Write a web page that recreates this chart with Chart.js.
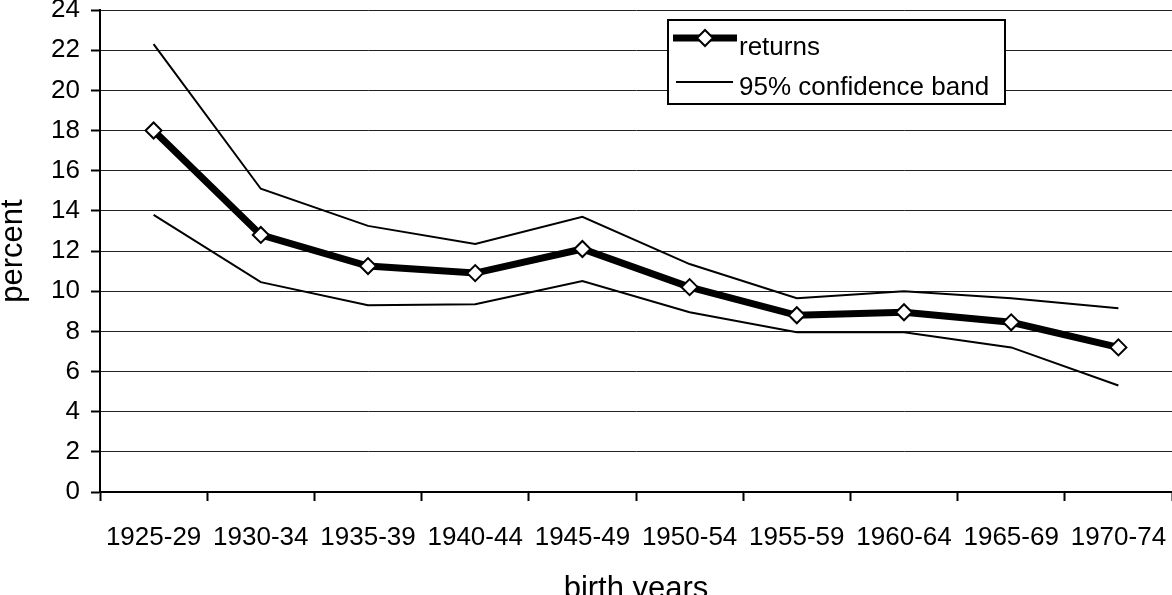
<!DOCTYPE html>
<html>
<head>
<meta charset="utf-8">
<title>Returns by birth years</title>
<script src="https://cdn.jsdelivr.net/npm/chart.js@4.4.0/dist/chart.umd.min.js"></script>
<style>
  html, body { margin: 0; padding: 0; background: #fff; }
  canvas { display: block; }
</style>
</head>
<body>
<canvas id="chart" width="1172" height="595"></canvas>
<script>
// =============================
// Data
// =============================
const birthYears = ["1925-29", "1930-34", "1935-39", "1940-44", "1945-49", "1950-54", "1955-59", "1960-64", "1965-69", "1970-74"];
const returns    = [18.0, 12.8, 11.25, 10.9, 12.1, 10.2, 8.8, 8.95, 8.45, 7.2];
const upperBand  = [22.3, 15.1, 13.25, 12.35, 13.7, 11.35, 9.65, 10.0, 9.65, 9.15];
const lowerBand  = [13.8, 10.45, 9.3, 9.35, 10.5, 8.95, 7.95, 7.95, 7.2, 5.3];
const yMin = 0, yMax = 24, yStep = 2;
const legendLabels = ["returns", "95% confidence band"];

const FONT = "'Liberation Sans', Arial, sans-serif";

// =============================
// Legend box drawn inside the plot
// =============================
const boxLegend = {
  id: "boxLegend",
  afterDatasetsDraw(chart) {
    const ctx = chart.ctx;
    const x = 668, y = 20, w = 337, h = 84;
    ctx.save();
    ctx.fillStyle = "#fff";
    ctx.fillRect(x, y, w, h);
    ctx.lineWidth = 2;
    ctx.strokeStyle = "#000";
    ctx.strokeRect(x, y, w, h);

    // returns sample
    ctx.lineWidth = 7;
    ctx.beginPath();
    ctx.moveTo(673, 38);
    ctx.lineTo(737, 38);
    ctx.stroke();
    ctx.fillStyle = "#fff";
    ctx.lineWidth = 2;
    Chart.helpers.drawPoint(ctx, { pointStyle: "rectRot", radius: 8, borderWidth: 2 }, 705, 38);

    // band sample
    ctx.lineWidth = 2;
    ctx.beginPath();
    ctx.moveTo(676, 82);
    ctx.lineTo(733, 82);
    ctx.stroke();

    ctx.fillStyle = "#000";
    ctx.font = "26px " + FONT;
    ctx.textBaseline = "middle";
    ctx.textAlign = "left";
    ctx.fillText(legendLabels[0], 739, 48);
    ctx.fillText(legendLabels[1], 739, 88);
    ctx.restore();
  }
};

// =============================
// Chart
// =============================
new Chart(document.getElementById("chart"), {
  type: "line",
  data: {
    labels: birthYears,
    datasets: [
      {
        label: "upper",
        data: upperBand,
        borderColor: "#000",
        borderWidth: 2,
        pointRadius: 0,
        tension: 0
      },
      {
        label: "lower",
        data: lowerBand,
        borderColor: "#000",
        borderWidth: 2,
        pointRadius: 0,
        tension: 0
      },
      {
        label: "returns",
        data: returns,
        borderColor: "#000",
        borderWidth: 7,
        pointStyle: "rectRot",
        pointRadius: 8,
        pointBorderWidth: 2,
        pointBackgroundColor: "#fff",
        pointBorderColor: "#000",
        tension: 0
      }
    ]
  },
  options: {
    responsive: false,
    animation: false,
    layout: { autoPadding: false, padding: { top: 10, left: 0, right: 0, bottom: 0 } },
    plugins: {
      legend: { display: false },
      tooltip: { enabled: false }
    },
    scales: {
      x: {
        offset: true,
        grid: {
          offset: true,
          drawOnChartArea: false,
          drawTicks: true,
          tickLength: 9,
          tickColor: "#000",
          tickWidth: 2
        },
        border: { color: "#000", width: 2 },
        ticks: {
          color: "#000",
          font: { family: FONT, size: 26 },
          padding: 21,
          maxRotation: 0,
          autoSkip: false
        },
        title: {
          display: true,
          text: "birth years",
          color: "#000",
          font: { family: FONT, size: 31, lineHeight: 1 },
          padding: { top: 0, bottom: -10 }
        },
        afterFit(scale) {
          scale.height = 103;
          scale.paddingLeft = 0;
          scale.paddingRight = 0;
        }
      },
      y: {
        min: yMin,
        max: yMax,
        grid: {
          color: "#222",
          lineWidth: 1,
          tickLength: 9,
          tickColor: "#000",
          tickWidth: 2
        },
        border: { color: "#000", width: 2 },
        ticks: {
          stepSize: yStep,
          color: "#000",
          font: { family: FONT, size: 26 },
          padding: 11
        },
        title: {
          display: true,
          text: "percent",
          color: "#000",
          font: { family: FONT, size: 31, lineHeight: 1 },
          padding: { top: -2, bottom: 0 }
        },
        afterFit(scale) {
          scale.width = 100;
          scale.paddingTop = 0;
          scale.paddingBottom = 0;
        }
      }
    }
  },
  plugins: [boxLegend]
});
</script>
</body>
</html>
